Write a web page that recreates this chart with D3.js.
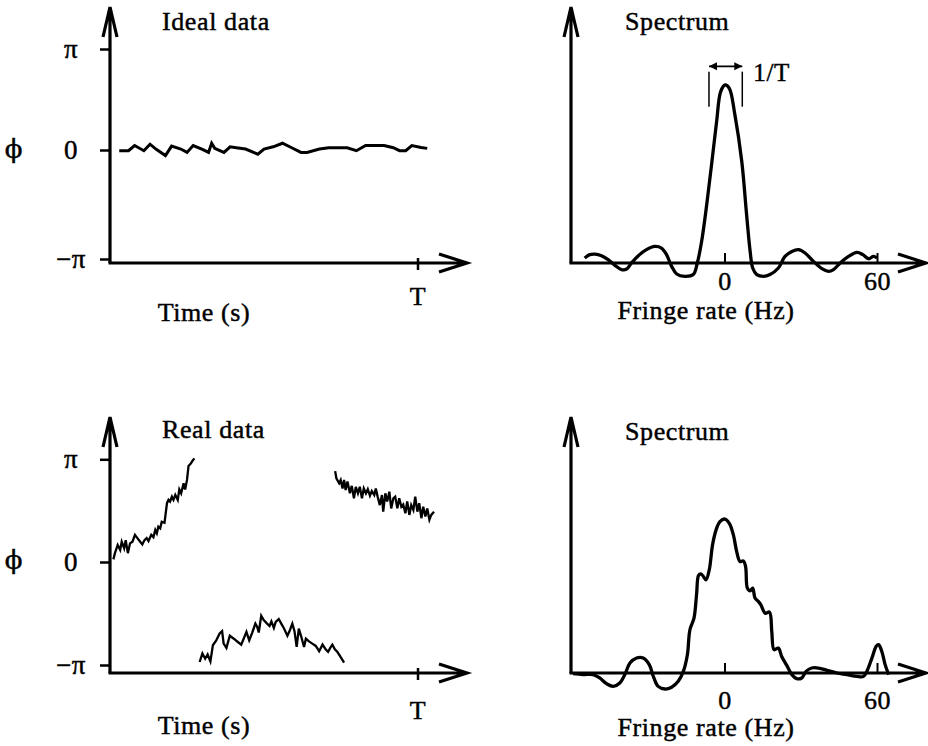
<!DOCTYPE html>
<html>
<head>
<meta charset="utf-8">
<script src="https://cdn.jsdelivr.net/npm/d3@7"></script>
<style>
  body { margin: 0; background: #fff; }
  text { font-family: "Liberation Serif", "DejaVu Serif", serif; fill: #000; stroke: #000; stroke-width: 0.45px; letter-spacing: 0.6px; }
</style>
</head>
<body>
<div id="chart"></div>
<script>
const PI = Math.PI;

// phase (rad) against time, time in units of T
const idealTime = [0.03, 0.06, 0.08, 0.11, 0.13, 0.15, 0.18, 0.20, 0.23, 0.25, 0.27, 0.30, 0.32, 0.33, 0.34, 0.37, 0.39, 0.41, 0.44, 0.48,
  0.50, 0.53, 0.56, 0.59, 0.62, 0.64, 0.68, 0.71, 0.77, 0.80, 0.83, 0.89, 0.92, 0.94, 0.96, 0.98, 1.01, 1.03];
const idealPhase = [-0.02, -0.02, 0.14, -0.02, 0.18, 0.02, -0.16, 0.12, 0.03, -0.07, 0.14, 0.02, -0.07, 0.21, 0.05, -0.07, 0.10, 0.07, 0.03, -0.12,
  0.03, 0.10, 0.21, 0.07, -0.07, -0.07, 0.03, 0.07, 0.07, -0.02, 0.14, 0.14, 0.07, -0.02, -0.02, 0.14, 0.08, 0.05];

// real data wraps, so it comes in three pieces
const realTime1 = [0.011, 0.016, 0.025, 0.033, 0.038, 0.046, 0.051, 0.058, 0.065, 0.073, 0.081, 0.089, 0.098, 0.105, 0.112, 0.119, 0.125, 0.134,
  0.141, 0.147, 0.152, 0.157, 0.163, 0.168, 0.177, 0.185, 0.190, 0.195, 0.201, 0.206, 0.212, 0.220, 0.225, 0.231, 0.239, 0.244, 0.250, 0.255,
  0.263, 0.268, 0.274];
const realPhase1 = [0.08, 0.27, 0.52, 0.37, 0.62, 0.42, 0.67, 0.27, 0.57, 0.62, 0.83, 0.73, 0.62, 0.54, 0.67, 0.73, 0.64, 0.83,
  0.76, 0.98, 0.88, 1.08, 1.03, 1.23, 1.20, 1.80, 1.90, 1.85, 2.00, 1.90, 2.05, 1.90, 2.22, 2.10, 2.41, 2.22, 2.51, 2.94,
  3.02, 3.10, 3.17];
const realTime2 = [0.291, 0.300, 0.309, 0.317, 0.326, 0.334, 0.345, 0.356, 0.364, 0.369, 0.378, 0.389, 0.402, 0.415, 0.426, 0.434, 0.443, 0.452,
  0.462, 0.472, 0.478, 0.483, 0.491, 0.499, 0.510, 0.518, 0.524, 0.532, 0.538, 0.548, 0.556, 0.565, 0.576, 0.584, 0.592, 0.599, 0.606, 0.613,
  0.621, 0.630, 0.636, 0.646, 0.657, 0.668, 0.679, 0.690, 0.700, 0.708, 0.717, 0.722, 0.730, 0.738, 0.749, 0.760];
const realPhase2 = [-3.05, -2.79, -2.95, -2.82, -3.03, -2.54, -2.39, -2.18, -2.11, -2.49, -2.62, -2.25, -2.34, -2.44, -2.52, -2.34, -2.13, -2.39,
  -2.15, -1.88, -1.98, -2.15, -1.64, -1.77, -1.88, -1.95, -1.81, -2.01, -1.83, -1.74, -1.88, -2.03, -2.25, -2.08, -1.88, -2.11, -2.59, -2.03,
  -2.28, -2.59, -2.34, -2.42, -2.49, -2.56, -2.72, -2.52, -2.66, -2.74, -2.59, -2.52, -2.66, -2.74, -2.90, -3.07];
const realTime3 = [0.731, 0.735, 0.744, 0.749, 0.755, 0.760, 0.765, 0.771, 0.779, 0.785, 0.792, 0.798, 0.805, 0.811, 0.818, 0.824, 0.831, 0.837,
  0.844, 0.850, 0.858, 0.863, 0.869, 0.876, 0.883, 0.887, 0.894, 0.900, 0.907, 0.913, 0.920, 0.926, 0.933, 0.939, 0.946, 0.952, 0.959, 0.965,
  0.972, 0.978, 0.985, 0.991, 0.998, 1.004, 1.011, 1.017, 1.024, 1.030, 1.037, 1.043, 1.052];
const realPhase3 = [2.78, 2.56, 2.41, 2.51, 2.25, 2.51, 2.20, 2.46, 2.10, 2.33, 1.95, 2.30, 2.10, 2.30, 1.95, 2.25, 2.10, 2.23,
  2.03, 2.17, 2.05, 2.25, 2.00, 1.74, 2.05, 1.54, 2.10, 1.85, 2.15, 1.64, 1.95, 2.00, 1.64, 1.95, 1.69, 1.76, 1.49, 1.85,
  1.44, 1.74, 1.59, 2.00, 1.54, 1.80, 1.34, 1.69, 1.39, 1.64, 1.29, 1.44, 1.54];

// spectra, fringe rate (Hz) against amplitude (ideal peak = 1)
const idealFreq = [-55.2, -53.2, -51.2, -48.6, -46.0, -43.3, -40.7, -38.7, -36.8, -34.1, -30.9, -27.6, -25.0, -23.0, -21.0, -19.0, -15.8,
  -12.5, -10.9, -9.2, -7.2, -5.3, -3.3, -1.7, 0, 1.7, 3.9, 6.6, 8.5, 9.9, 10.9, 12.5, 15.1, 17.7, 21.0, 23.6, 26.3, 28.9, 31.5, 34.8,
  38.1, 40.7, 42.7, 45.3, 48.6, 51.9, 54.2, 56.5, 58.4, 59.8];
const idealAmp = [0.028, 0.047, 0.050, 0.041, 0.019, -0.013, -0.037, -0.034, 0.0, 0.041, 0.075, 0.093, 0.084, 0.047, -0.019, -0.062, -0.075,
  -0.065, 0.0, 0.121, 0.327, 0.551, 0.794, 0.963, 1.0, 0.981, 0.832, 0.570, 0.271, 0.065, -0.028, -0.065, -0.075, -0.065, -0.028, 0.037, 0.065, 0.075, 0.056, 0.009,
  -0.032, -0.047, -0.037, 0.0, 0.037, 0.060, 0.047, 0.024, 0.037, 0.028];
const realFreq = [-59.8, -55.8, -51.9, -49.3, -46.6, -44.0, -41.4, -39.4, -37.4, -34.8, -32.2, -29.8, -28.2, -26.3, -23.6, -21.0, -18.4,
  -16.4, -14.8, -13.8, -12.2, -11.2, -10.4, -9.5, -8.5, -7.5, -6.2, -4.9, -3.5, -2.0, 0, 1.7, 3.3, 4.6, 5.9, 7.2, 8.1, 8.8, 9.9, 10.9,
  11.8, 13.1, 14.1, 15.8, 17.5, 18.4, 19.3, 21.0, 22.3, 24.3, 26.3, 28.2, 30.2, 31.9, 34.1, 36.8, 40.1, 44.0, 47.9, 51.9, 54.5, 55.8,
  57.8, 59.5, 60.4, 61.7, 63.0, 64.4];
const realAmp = [-0.004, -0.009, -0.009, -0.028, -0.060, -0.075, -0.056, -0.009, 0.056, 0.084, 0.084, 0.047, -0.019, -0.075, -0.090, -0.080, -0.047,
  0.009, 0.103, 0.243, 0.308, 0.439, 0.548, 0.557, 0.542, 0.523, 0.579, 0.720, 0.804, 0.850, 0.865, 0.841, 0.776, 0.682, 0.626, 0.630, 0.598, 0.477, 0.462, 0.477,
  0.421, 0.402, 0.383, 0.336, 0.342, 0.234, 0.131, 0.140, 0.093, 0.043, -0.009, -0.032, -0.028, 0.009, 0.028, 0.028, 0.015, 0.0, -0.009, -0.019, -0.019, 0.009,
  0.084, 0.150, 0.159, 0.121, 0.047, -0.009];

const phaseTicks = [PI, 0, -PI];
const phaseTickLabels = ["π", "0", "−π"];
const timeTicks = [1];
const timeTickLabels = ["T"];
const freqTicks = [0, 60];
const freqTickLabels = ["0", "60"];
const resolutionBracket = [-6.3, 6.8]; // 1/T width marker

const W = 928, H = 746;
const svg = d3.select("#chart").append("svg")
  .attr("width", W)
  .attr("height", H);

svg.append("rect").attr("width", W).attr("height", H).attr("fill", "#fff");

const zip = (a, b) => a.map((d, i) => [d, b[i]]);

// axes with open arrowheads
function arrowAxes(g, x0, y0, xEnd, yTop) {
  g.append("path")
    .attr("d", `M${x0},${y0}V${yTop}M${x0 - 7},${yTop + 30}L${x0},${yTop}L${x0 + 7},${yTop + 30}`)
    .attr("fill", "none").attr("stroke", "#000").attr("stroke-width", 3.2);
  g.append("path")
    .attr("d", `M${x0 - 1.5},${y0}H${xEnd}M${xEnd - 28},${y0 - 9}L${xEnd},${y0}L${xEnd - 28},${y0 + 9}`)
    .attr("fill", "none").attr("stroke", "#000").attr("stroke-width", 3.2);
}

function phasePanel(o) {
  const g = svg.append("g");
  const x = d3.scaleLinear().domain([0, 1]).range([110, 418]);
  const y = d3.scaleLinear().domain([-PI, 0, PI]).range(o.yRange);

  arrowAxes(g, x(0), o.axisY, 467, o.yTop);

  const yAxis = d3.axisLeft(y)
    .tickValues(phaseTicks)
    .tickFormat((d, i) => phaseTickLabels[i])
    .tickSize(10);
  g.append("g")
    .attr("transform", `translate(${x(0)},0)`)
    .call(yAxis)
    .attr("font-size", 27)
    .call(a => a.select(".domain").remove())
    .call(a => a.selectAll("line").attr("stroke-width", 2.5))
    .call(a => a.selectAll("text").attr("text-anchor", "middle").attr("x", -39));

  g.selectAll(".ttick")
    .data(timeTicks)
    .join("line")
    .attr("x1", d => x(d)).attr("x2", d => x(d))
    .attr("y1", o.axisY - 5).attr("y2", o.axisY + 7)
    .attr("stroke", "#000").attr("stroke-width", 2.5);
  g.selectAll(".tlabel")
    .data(timeTicks)
    .join("text")
    .attr("x", d => x(d)).attr("y", o.tLabelY)
    .attr("text-anchor", "middle").attr("font-size", 26)
    .text((d, i) => timeTickLabels[i]);

  g.append("text").attr("x", 204).attr("y", o.xLabelY)
    .attr("text-anchor", "middle").attr("font-size", 26).text("Time (s)");
  g.append("text").attr("x", 162).attr("y", o.titleY)
    .attr("font-size", 26).text(o.title);
  g.append("text").attr("x", 14).attr("y", o.phiY)
    .attr("text-anchor", "middle").attr("font-size", 26)
    .style("font-family", "'DejaVu Serif', serif").text("\u03D5");

  const line = d3.line().x(d => x(d[0])).y(d => y(d[1]));
  g.selectAll(".seg")
    .data(o.segments)
    .join("path")
    .attr("d", line)
    .attr("fill", "none").attr("stroke", "#000")
    .attr("stroke-width", o.lineWidth)
    .attr("stroke-linejoin", "miter");
}

function spectrumPanel(o) {
  const g = svg.append("g");
  const x = d3.scaleLinear().domain([0, 60]).range([725, 877.5]);
  const y = d3.scaleLinear().domain([0, 1]).range([o.axisY, o.axisY - 178]);

  arrowAxes(g, 571, o.axisY, 926, o.yTop);

  g.selectAll(".ftick")
    .data(freqTicks)
    .join("line")
    .attr("x1", d => x(d)).attr("x2", d => x(d))
    .attr("y1", o.axisY - 10).attr("y2", o.axisY)
    .attr("stroke", "#000").attr("stroke-width", 2);
  g.selectAll(".flabel")
    .data(freqTicks)
    .join("text")
    .attr("x", d => x(d)).attr("y", o.fLabelY)
    .attr("text-anchor", "middle").attr("font-size", 26)
    .text((d, i) => freqTickLabels[i]);

  g.append("text").attr("x", 706).attr("y", o.xLabelY)
    .attr("text-anchor", "middle").attr("font-size", 26).text("Fringe rate (Hz)");
  g.append("text").attr("x", 625).attr("y", o.titleY)
    .attr("font-size", 26).text("Spectrum");

  const line = d3.line().x(d => x(d[0])).y(d => y(d[1])).curve(d3.curveCatmullRom);
  g.append("path")
    .attr("d", line(o.points))
    .attr("fill", "none").attr("stroke", "#000")
    .attr("stroke-width", 3.3).attr("stroke-linejoin", "round");

  if (o.bracket) {
    const [f0, f1] = o.bracket;
    g.selectAll(".br")
      .data(o.bracket)
      .join("line")
      .attr("x1", d => x(d)).attr("x2", d => x(d))
      .attr("y1", y(1.075)).attr("y2", y(0.878))
      .attr("stroke", "#000").attr("stroke-width", 1.5);
    const ay = y(1.105);
    g.append("path")
      .attr("d", `M${x(f0)},${ay}H${x(f1)}`)
      .attr("stroke", "#000").attr("stroke-width", 1.8);
    g.append("path")
      .attr("d", `M${x(f0)},${ay}l8,-4v8z M${x(f1)},${ay}l-8,-4v8z`)
      .attr("fill", "#000");
    g.append("text").attr("x", x(f1) + 11).attr("y", y(1.02))
      .attr("font-size", 25).text("1/T");
  }
}

phasePanel({
  title: "Ideal data", titleY: 30, yTop: 7, axisY: 263, yRange: [259, 150, 49],
  tLabelY: 305, xLabelY: 321, phiY: 158, lineWidth: 3,
  segments: [zip(idealTime, idealPhase)]
});
phasePanel({
  title: "Real data", titleY: 438, yTop: 417, axisY: 673, yRange: [665, 562, 459.3],
  tLabelY: 719, xLabelY: 734, phiY: 569, lineWidth: 2.3,
  segments: [zip(realTime1, realPhase1), zip(realTime2, realPhase2), zip(realTime3, realPhase3)]
});
spectrumPanel({
  yTop: 7, axisY: 263, fLabelY: 290, xLabelY: 319, titleY: 30,
  points: zip(idealFreq, idealAmp), bracket: resolutionBracket
});
spectrumPanel({
  yTop: 417, axisY: 673, fLabelY: 709, xLabelY: 736, titleY: 440,
  points: zip(realFreq, realAmp)
});
</script>
</body>
</html>
